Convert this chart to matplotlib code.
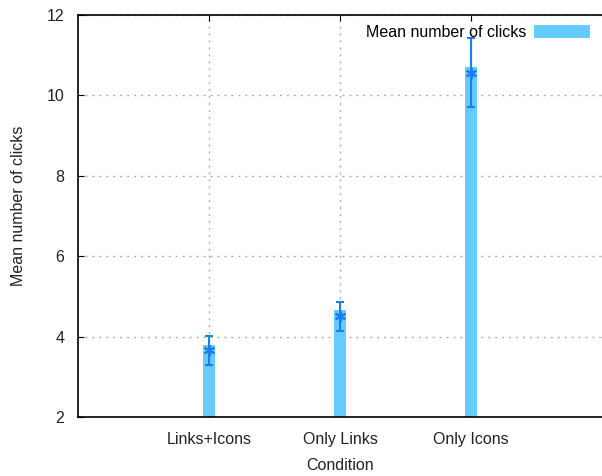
import matplotlib.pyplot as plt

plt.rcParams['font.family'] = ['Liberation Sans', 'DejaVu Sans']

conditions = ['Links+Icons', 'Only Links', 'Only Icons']
bar_means = [3.78, 4.65, 10.70]
point_means = [3.66, 4.52, 10.55]
err_low = [3.30, 4.15, 9.72]
err_high = [4.02, 4.86, 11.42]

x = [1, 2, 3]
lower = [p - lo for p, lo in zip(point_means, err_low)]
upper = [hi - p for p, hi in zip(point_means, err_high)]

fig = plt.figure(figsize=(6.02, 4.76), dpi=100)
ax = fig.add_axes([0.1296, 0.124, 0.8704, 0.8445])

ax.bar(x, [m - 2 for m in bar_means], bottom=2, width=0.09,
       color='#66ccff', label='Mean number of clicks', zorder=2)
ax.errorbar(x, point_means, yerr=[lower, upper], fmt='none',
            ecolor='#1a7ff0', elinewidth=1.5, capsize=3, capthick=1.5, zorder=3)
ax.plot(x, point_means, linestyle='none', marker=(6, 2, 0), markersize=8,
        markeredgecolor='#1a7ff0', markeredgewidth=1.5, zorder=4)

ax.set_xlim(0, 4)
ax.set_ylim(2, 12)
ax.set_xticks(x)
ax.set_xticklabels(conditions)
ax.set_yticks([2, 4, 6, 8, 10, 12])
ax.tick_params(direction='in', top=True, right=False, length=4, labelsize=11.5,
               colors='black', labelcolor='#222222')
ax.tick_params(axis='x', pad=11)
ax.tick_params(axis='y', pad=10)
ax.grid(True, linestyle=(0, (1.5, 3.5)), color='#b0b0b0', linewidth=1, zorder=0)
ax.set_axisbelow(True)
ax.spines['right'].set_visible(False)
for s in ax.spines.values():
    s.set_linewidth(1.2)

ax.set_xlabel('Condition', fontsize=11.5, labelpad=8, color='#222222')
ax.set_ylabel('Mean number of clicks', fontsize=11.5, color='#222222')
ax.yaxis.set_label_coords(-0.10, 0.525)

leg = ax.legend(loc='upper right', frameon=False, markerfirst=False,
                handlelength=3.5, handleheight=0.9, fontsize=11.5,
                handletextpad=0.5, borderaxespad=0.2,
                bbox_to_anchor=(0.995, 1.0))

fig.savefig('out.png', dpi=100)
